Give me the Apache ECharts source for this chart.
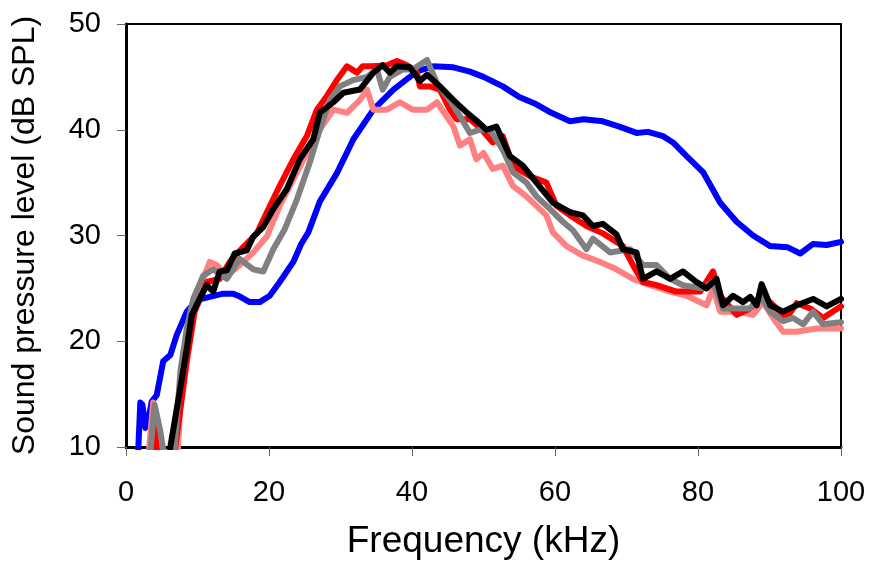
<!DOCTYPE html>
<html>
<head>
<meta charset="utf-8">
<script src="https://cdn.jsdelivr.net/npm/echarts@6/dist/echarts.min.js"></script>
<style>html,body{margin:0;padding:0;background:#fff}#c{width:871px;height:565px}</style>
</head>
<body>
<div id="c"></div>
<script>
const xTicks = [0, 20, 40, 60, 80, 100];
const yTicks = [10, 20, 30, 40, 50];

const blue = [[1.6,8],[2.0,14.2],[2.3,14.0],[2.7,11.8],[3.1,12.5],[3.6,14.3],[4.3,14.9],[5.2,18.1],[6.2,18.7],[7.1,20.6],[8.5,22.8],[9.9,23.9],[11.7,24.2],[13.6,24.5],[15,24.5],[16,24.2],[17.3,23.7],[18.7,23.7],[20.1,24.3],[21.5,25.6],[23.4,27.5],[24.5,29.2],[25.5,30.3],[27.1,33.2],[29.5,35.9],[31.8,39.1],[34.6,41.9],[37.4,43.8],[39.7,45.0],[41,45.6],[43,46.0],[45.8,45.9],[48.1,45.5],[50,45.0],[52.7,44.1],[55,43.1],[57.4,42.4],[59.5,41.6],[62.1,40.8],[64,41.0],[66.7,40.8],[69,40.3],[71.4,39.7],[73,39.8],[75.1,39.4],[76.5,38.8],[78.4,37.5],[80.7,36],[83.1,33.1],[85.4,31.3],[87.7,30],[90.1,29.0],[92.5,28.9],[94.3,28.3],[96.1,29.2],[98,29.1],[100,29.4]];

const pink = [[3.0,8],[3.8,14.2],[4.7,10.5],[5.2,8],[7.1,8],[8,18.7],[9,22.5],[10.3,25],[11.7,27.5],[12.7,27.2],[14.1,26.2],[15.9,27.2],[17.8,28.4],[19.7,29.9],[21.5,32.8],[23.4,35.3],[25.3,37.8],[27.1,40],[29,41.9],[30.9,41.6],[32.7,42.8],[33.7,43.8],[34.6,41.9],[36.5,41.9],[38.3,42.6],[40.1,41.9],[42.1,41.9],[43.5,42.6],[44.8,41.3],[45.8,40.3],[46.7,38.5],[48.1,39.1],[49,37.2],[50,37.8],[51.3,36.3],[52.7,36.6],[54.1,34.7],[56,33.7],[57.4,32.8],[58.8,31.9],[59.7,30.3],[61.6,29.0],[63.9,28.1],[66.3,27.5],[68.6,26.8],[70.9,25.9],[73.3,25.3],[76.1,24.7],[78.4,24.3],[81.2,23.4],[82.1,25.0],[83.1,22.8],[85.4,22.8],[87.7,22.5],[89.1,23.7],[90.5,22.2],[91.9,20.9],[93.8,20.9],[96.6,21.2],[98.5,21.2],[100,21.2]];

const red = [[3.4,8],[4.0,11.8],[4.6,8],[6.5,8],[8.5,18.1],[9.6,22.8],[11.3,25.6],[13.1,25.9],[14.5,27.5],[16.4,28.9],[18.3,30.2],[19.7,32.2],[21.5,34.7],[23.4,37.2],[25.3,39.4],[26.7,41.9],[28.1,43.2],[29.5,44.7],[30.9,46.0],[32.3,45.4],[33.1,46],[34.5,46],[36.5,46.1],[37.9,46.5],[39.3,46.1],[40.7,45.4],[41.1,44.1],[42.5,44.1],[43.9,43.8],[45.3,41.9],[46.2,41.0],[48.1,41.0],[49.5,40.2],[51.3,38.8],[52.7,39.4],[54.1,36.6],[56.5,35.6],[58.8,35],[60.2,32.8],[62.1,31.9],[64.4,30.9],[66.7,30.2],[69.5,29.0],[70.9,27.2],[72.3,25.6],[74.2,25.3],[77,24.7],[80.3,24.7],[82.1,26.6],[83.1,24.3],[85.4,22.5],[87.3,23.1],[89.1,24.3],[91,23.1],[92.4,22.2],[93.8,23.6],[95.7,23.1],[97.5,22.2],[100,23.3]];

const gray = [[3.2,8],[4.0,14.0],[4.8,11.5],[5.6,8],[6.6,8],[7.6,17.1],[8.5,21.2],[9.4,24.0],[10.8,26.2],[12.2,26.8],[14.1,25.9],[15.9,27.8],[17.8,26.8],[19.2,26.6],[20.6,28.7],[22.2,30.6],[23.9,33.4],[25.7,36.9],[27.1,40],[28.5,42.8],[29.9,44.1],[31.8,44.7],[33.7,45.0],[35.1,45.7],[35.9,43.8],[36.9,45.0],[38.7,45.7],[40.1,45.7],[42.1,46.6],[43.5,44.4],[45.3,42.8],[46.7,41.3],[48.1,39.7],[49.5,40],[50.9,40],[52.7,38.1],[54.1,36],[56,35],[57.4,33.7],[59.3,32.5],[61.1,31.3],[62.5,30.5],[64.4,28.7],[65.3,29.7],[67.7,28.4],[70.5,28.7],[72.3,27.2],[74.2,27.2],[76.1,25.9],[77.9,25.3],[80.7,25.0],[82.1,25.6],[83.5,23.1],[85.4,23.1],[87.3,23.1],[88.7,24.3],[90.1,22.8],[91.9,21.9],[93.3,22.2],[94.7,21.6],[96.1,22.8],[97.5,21.6],[100,21.8]];

const black = [[5.9,8],[6.2,10],[7.6,15.6],[8.5,19.3],[9.2,22.5],[10.3,24.0],[11.3,25.3],[12.2,24.7],[13.1,26.6],[14.1,26.7],[15.2,28.3],[16.9,28.6],[17.8,29.9],[19.2,30.8],[20.6,32.5],[22.5,34.4],[24.3,37.2],[26.2,39.1],[27.1,41.6],[29,42.6],[30.4,43.5],[32.7,43.8],[34.6,45.4],[35.9,46.1],[36.9,45.4],[37.9,46.0],[39.7,45.9],[41.1,44.6],[42.1,45.2],[43.9,44.1],[45.8,42.8],[47.7,41.6],[49.3,40.7],[50.4,40.0],[51.8,40.3],[53.7,37.5],[55.5,36.6],[57.4,35],[59.7,33.1],[62.1,32.2],[63.9,31.9],[65.3,30.9],[66.7,31.1],[68.6,30.1],[69.5,28.7],[71.4,28.4],[72.3,25.9],[74.2,26.6],[76.1,25.9],[77.9,26.6],[79.8,25.6],[81.2,25.0],[82.6,25.9],[83.5,23.4],[84.9,24.3],[86.3,23.7],[87.3,24.2],[88.2,23.4],[88.9,25.4],[90.1,23.4],[91.9,22.8],[93.8,23.4],[96.1,24.0],[98,23.3],[100,24]];

const seriesDefs = [
  {name: 'blue', data: blue, color: '#0000ff'},
  {name: 'pink', data: pink, color: '#ff8080'},
  {name: 'red', data: red, color: '#ff0000'},
  {name: 'gray', data: gray, color: '#808080'},
  {name: 'black', data: black, color: '#000000'}
];

const FONT = 'Liberation Sans, Arial, sans-serif';
const chart = echarts.init(document.getElementById('c'), null, {renderer: 'canvas'});
chart.setOption({
  animation: false,
  backgroundColor: '#fff',
  grid: {left: 126, right: 30, top: 24, bottom: 116, show: true, borderColor: '#000', borderWidth: 2, backgroundColor: 'transparent'},
  xAxis: {
    type: 'value', min: xTicks[0], max: xTicks[xTicks.length-1], interval: 20,
    name: 'Frequency (kHz)', nameLocation: 'middle', nameGap: 76,
    nameTextStyle: {fontFamily: FONT, fontSize: 37, color: '#000'},
    axisLine: {show: true, onZero: false, lineStyle: {color: '#000', width: 3}},
    axisTick: {show: true, length: 9, lineStyle: {color: '#666', width: 1}},
    axisLabel: {fontFamily: FONT, fontSize: 29, color: '#000', margin: 31},
    splitLine: {show: false}
  },
  yAxis: {
    type: 'value', min: yTicks[0], max: yTicks[yTicks.length-1], interval: 10,
    name: 'Sound pressure level (dB SPL)', nameLocation: 'middle', nameGap: 85, nameRotate: 90,
    nameTextStyle: {fontFamily: FONT, fontSize: 32, color: '#000'},
    axisLine: {show: true, onZero: false, lineStyle: {color: '#000', width: 3}},
    axisTick: {show: true, length: 9, lineStyle: {color: '#666', width: 1}},
    axisLabel: {fontFamily: FONT, fontSize: 29, color: '#000', margin: 25},
    splitLine: {show: false}
  },
  series: seriesDefs.map(s => ({
    type: 'line', name: s.name, data: s.data, showSymbol: false, symbol: 'none',
    clip: true, smooth: false,
    lineStyle: {color: s.color, width: 6, join: 'round', cap: 'round'},
    itemStyle: {color: s.color}
  }))
});
</script>
</body>
</html>
